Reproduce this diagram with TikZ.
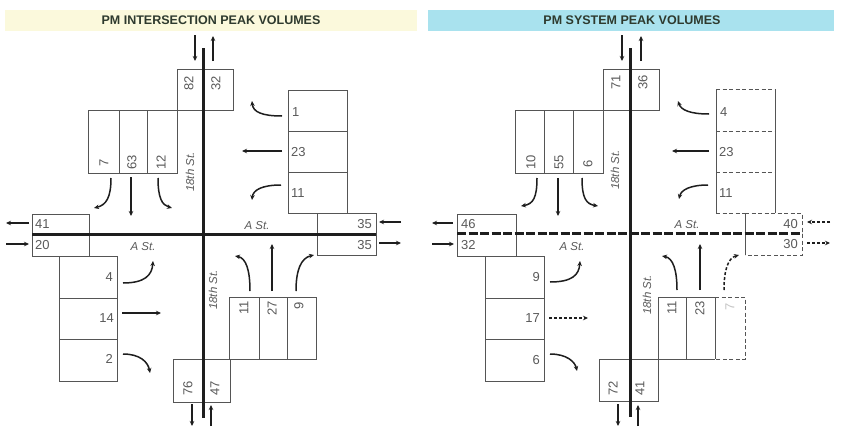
\documentclass[tikz,border=0pt]{standalone}
\usepackage{fontspec}
\setmainfont{Liberation Sans}
\usetikzlibrary{arrows.meta}
\definecolor{boxc}{HTML}{555555}
\definecolor{txtc}{HTML}{5A5A5A}
\definecolor{roadc}{HTML}{1E1E1E}
\definecolor{ttlY}{HTML}{FBF9DC}
\definecolor{ttlC}{HTML}{A9E2EE}
\definecolor{ttltxt}{HTML}{2E3A2E}
\begin{document}
\begin{tikzpicture}[x=1pt,y=-1pt,
  lanebox/.style={draw=boxc,line width=0.9pt},
  dbox/.style={draw=boxc,line width=0.9pt,dash pattern=on 4pt off 2.5pt},
  road/.style={draw=roadc,line width=3pt},
  droad/.style={draw=roadc,line width=3pt,dash pattern=on 9pt off 2.5pt},
  mv/.style={draw=roadc,line width=1.5pt,-{Stealth[length=5pt,width=4.5pt]}},
  mvd/.style={mv,dash pattern=on 3pt off 2pt},
  num/.style={text=txtc,font=\fontsize{13}{13}\selectfont,inner sep=0pt},
  rnum/.style={num,rotate=90},
  street/.style={text=txtc,font=\fontsize{11.5}{11.5}\selectfont\itshape,inner sep=0pt},
  ttl/.style={text=ttltxt,font=\fontsize{12.5}{12.5}\selectfont\bfseries,inner sep=0pt}
]
\useasboundingbox (0,0) rectangle (846,434);
\fill[white] (0,0) rectangle (846,434);

% ---------- titles
\fill[ttlY] (5,10) rectangle (417,31);
\node[ttl] (t1) at (211,20) {PM INTERSECTION PEAK VOLUMES};
\fill[ttlC] (428,10) rectangle (834,31);
\node[ttl] (t2) at (632,20) {PM SYSTEM PEAK VOLUMES};

% ================= LEFT DIAGRAM =================
% boxes
\draw[lanebox] (177,69) rectangle (233,110);
\draw[lanebox] (88,110) rectangle (177,173);
\draw[lanebox] (119,110) -- (119,173) (147,110) -- (147,173);
\draw[lanebox] (288,90) rectangle (347,213);
\draw[lanebox] (288,131) -- (347,131) (288,172) -- (347,172);
\draw[lanebox] (317,213) rectangle (376,255);
\draw[lanebox] (32,214) rectangle (89,256);
\draw[lanebox] (59,256) rectangle (117,381);
\draw[lanebox] (59,298) -- (117,298) (59,339) -- (117,339);
\draw[lanebox] (173,359) rectangle (230,402);
\draw[lanebox] (229,297) rectangle (316,359);
\draw[lanebox] (259,297) -- (259,359) (287,297) -- (287,359);
% roads
\draw[road] (203,48) -- (203,418);
\draw[road] (32,234) -- (376,234);
% labels
\node[rnum] (l82) at (189,83) {82};
\node[rnum] (l32) at (216,83) {32};
\node[rnum] (l7) at (104,163) {7};
\node[rnum] (l63) at (132,162) {63};
\node[rnum] (l12) at (161,162) {12};
\node[street,rotate=90] (s1) at (190,172) {18th St.};
\node[num,anchor=west] (l1) at (292,112) {1};
\node[num,anchor=west] (l23) at (291,152) {23};
\node[num,anchor=west] (l11) at (291,193) {11};
\node[num,anchor=east] (l35a) at (372,224) {35};
\node[num,anchor=east] (l35b) at (372,245) {35};
\node[num,anchor=west] (l41) at (35,224) {41};
\node[num,anchor=west] (l20) at (35,245) {20};
\node[num,anchor=east] (l4) at (113,277) {4};
\node[num,anchor=east] (l14) at (114,318) {14};
\node[num,anchor=east] (l2) at (113,359) {2};
\node[rnum] (l76) at (188,388) {76};
\node[rnum] (l47) at (215,388) {47};
\node[rnum] (lb11) at (244,308) {11};
\node[rnum] (lb27) at (272,308) {27};
\node[rnum] (lb9) at (299,306) {9};
\node[street,rotate=90] (s2) at (213,290) {18th St.};
\node[street] (a1) at (257,226) {A St.};
\node[street] (a2) at (143,247) {A St.};
% arrows
\draw[mv] (195,35) -- (195,61);
\draw[mv] (213,61) -- (213,36);
\draw[mv] (29,223) -- (6,223);
\draw[mv] (6,244) -- (29,244);
\draw[mv] (401,222) -- (379,222);
\draw[mv] (379,243) -- (401,243);
\draw[mv] (192,404) -- (192,426);
\draw[mv] (211,426) -- (211,405);
\draw[mv] (111,178) .. controls (111,198) and (106,205) .. (94,208);
\draw[mv] (131,177) -- (131,216);
\draw[mv] (158,178) .. controls (158,198) and (162,205) .. (172,208);
\draw[mv] (282,116) .. controls (262,116) and (253,112) .. (252,101);
\draw[mv] (282,151) -- (242,151);
\draw[mv] (281,185) .. controls (262,185) and (253,190) .. (252,200);
\draw[mv] (123,283) .. controls (145,283) and (152,275) .. (153,261);
\draw[mv] (122,313) -- (161,313);
\draw[mv] (123,354) .. controls (140,354) and (148,362) .. (150,373);
\draw[mv] (250,291) .. controls (250,270) and (246,258) .. (235,256);
\draw[mv] (272,291) -- (272,244);
\draw[mv] (296,291) .. controls (296,270) and (301,258) .. (314,255);

% ================= RIGHT DIAGRAM =================
\draw[lanebox] (603,69) rectangle (659,110);
\draw[lanebox] (515,110) rectangle (603,173);
\draw[lanebox] (544,110) -- (544,173) (573,110) -- (573,173);
\draw[lanebox] (716,89) -- (716,213) (775,89) -- (775,213);
\draw[dbox] (716,89) -- (775,89) (716,131) -- (775,131) (716,172) -- (775,172) (716,213) -- (745,213);
\draw[lanebox] (745,213) -- (745,255);
\draw[dbox] (745,213) -- (802,213) -- (802,255) -- (745,255);
\draw[lanebox] (457,214) rectangle (516,256);
\draw[lanebox] (485,256) rectangle (544,381);
\draw[lanebox] (485,298) -- (544,298) (485,339) -- (544,339);
\draw[lanebox] (599,359) rectangle (658,401);
\draw[lanebox] (715,297) -- (658,297) -- (658,359) -- (715,359);
\draw[lanebox] (686,297) -- (686,359) (715,297) -- (715,359);
\draw[dbox] (715,297) -- (745,297) -- (745,359) -- (715,359);
% roads
\draw[road] (630,48) -- (630,417);
\draw[droad] (457,233) -- (802,233);
% labels
\node[rnum] (r71) at (616,82) {71};
\node[rnum] (r36) at (643,82) {36};
\node[rnum] (r10) at (531,162) {10};
\node[rnum] (r55) at (559,162) {55};
\node[rnum] (r6) at (588,164) {6};
\node[street,rotate=90] (s3) at (615,170) {18th St.};
\node[num,anchor=west] (r4) at (720,112) {4};
\node[num,anchor=west] (r23) at (719,152) {23};
\node[num,anchor=west] (r11) at (719,193) {11};
\node[num,anchor=east] (r40) at (798,224) {40};
\node[num,anchor=east] (r30) at (798,244) {30};
\node[num,anchor=west] (r46) at (461,224) {46};
\node[num,anchor=west] (r32) at (461,245) {32};
\node[num,anchor=east] (r9) at (540,277) {9};
\node[num,anchor=east] (r17) at (540,318) {17};
\node[num,anchor=east] (r6b) at (540,360) {6};
\node[rnum] (r72) at (613,388) {72};
\node[rnum] (r41) at (640,388) {41};
\node[rnum] (rb11) at (672,308) {11};
\node[rnum] (rb23) at (700,308) {23};
\node[rnum,text=txtc!35] (rb7) at (730,307) {7};
\node[street,rotate=90] (s4) at (647,295) {18th St.};
\node[street] (a3) at (687,225) {A St.};
\node[street] (a4) at (572,247) {A St.};
% arrows
\draw[mv] (622,35) -- (622,61);
\draw[mv] (641,61) -- (641,36);
\draw[mv] (453,223) -- (432,223);
\draw[mv] (432,244) -- (454,244);
\draw[mvd] (830,222) -- (807,222);
\draw[mvd] (807,243) -- (830,243);
\draw[mv] (618,404) -- (618,426);
\draw[mv] (638,426) -- (638,405);
\draw[mv] (537,178) .. controls (537,198) and (533,204) .. (521,206);
\draw[mv] (558,178) -- (558,216);
\draw[mv] (582,178) .. controls (582,198) and (586,204) .. (598,206);
\draw[mv] (709,114) .. controls (690,114) and (681,110) .. (678,101);
\draw[mv] (709,151) -- (672,151);
\draw[mv] (708,185) .. controls (690,185) and (681,190) .. (679,199);
\draw[mv] (550,282) .. controls (572,282) and (579,275) .. (580,261);
\draw[mvd] (549,318) -- (588,318);
\draw[mv] (550,354) .. controls (567,354) and (575,362) .. (577,371);
\draw[mv] (677,290) .. controls (677,270) and (673,258) .. (662,256);
\draw[mv] (700,290) -- (700,244);
\draw[mvd] (724,290) .. controls (724,270) and (728,258) .. (739,255);
\end{tikzpicture}
\end{document}
